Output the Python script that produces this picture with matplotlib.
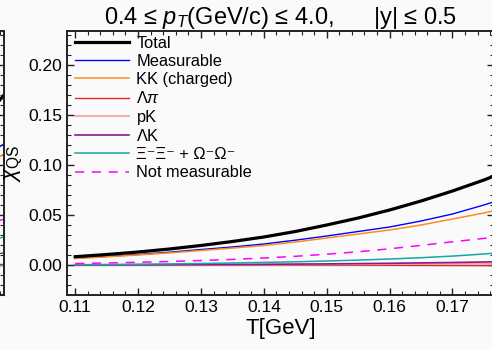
import numpy as np
import matplotlib
matplotlib.use("Agg")
import matplotlib.pyplot as plt
from matplotlib.ticker import MultipleLocator, FormatStrFormatter

plt.rcParams["font.family"] = ["Liberation Sans", "DejaVu Sans"]
plt.rcParams["mathtext.fontset"] = "custom"
plt.rcParams["mathtext.rm"] = "Liberation Sans"
plt.rcParams["mathtext.it"] = "Liberation Sans:italic"

# temperature grid [GeV]
T = [0.110, 0.115, 0.120, 0.125, 0.130, 0.135, 0.140, 0.145,
     0.150, 0.155, 0.160, 0.165, 0.170, 0.175, 0.177]

# chi_QS contributions, 0.4 < pT < 4.0 GeV/c, |y| < 0.5
chi_total = [0.0083, 0.0105, 0.0130, 0.0160, 0.0195, 0.0235, 0.0280, 0.0335,
             0.0400, 0.0470, 0.0550, 0.0640, 0.0740, 0.0850, 0.0900]
chi_meas = [0.0068, 0.0085, 0.0105, 0.0128, 0.0155, 0.0180, 0.0210, 0.0248,
            0.0290, 0.0335, 0.0380, 0.0440, 0.0510, 0.0600, 0.0640]
chi_kk = [0.0065, 0.0082, 0.0100, 0.0121, 0.0145, 0.0169, 0.0195, 0.0230,
          0.0270, 0.0310, 0.0350, 0.0400, 0.0460, 0.0520, 0.0550]
chi_lpi = [0.0, 0.0, 0.0, 0.0, -0.0001, -0.0001, -0.0001, -0.0002,
           -0.0002, -0.0003, -0.0003, -0.0004, -0.0005, -0.0006, -0.0006]
chi_pk = [0.0, 0.0, 0.0001, 0.0001, 0.0002, 0.0002, 0.0003, 0.0004,
          0.0005, 0.0006, 0.0008, 0.0010, 0.0012, 0.0014, 0.0015]
chi_lk = [0.0001, 0.0001, 0.0002, 0.0003, 0.0004, 0.0005, 0.0007, 0.0009,
          0.0011, 0.0014, 0.0017, 0.0021, 0.0025, 0.0030, 0.0032]
chi_xi = [0.0003, 0.0005, 0.0008, 0.0011, 0.0015, 0.0020, 0.0026, 0.0032,
          0.0040, 0.0049, 0.0060, 0.0073, 0.0089, 0.0110, 0.0120]
chi_notmeas = [0.0015, 0.0020, 0.0027, 0.0035, 0.0045, 0.0056, 0.0070, 0.0087,
               0.0108, 0.0132, 0.0162, 0.0196, 0.0232, 0.0266, 0.0280]

# neighbouring panel (only its right end is shown)
T_left = [0.170, 0.177]
left_total = [0.160, 0.170]
left_meas = [0.116, 0.121]
left_kk = [0.106, 0.111]
left_notmeas = [0.043, 0.046]
left_xi = [0.026, 0.028]
left_lk = [0.011, 0.012]
left_lpi = [0.001, 0.001]

bg = "#fafafa"


def style_axes(ax):
    ax.set_facecolor(bg)
    for sp in ax.spines.values():
        sp.set_linewidth(1.4)
        sp.set_color("#222222")
    ax.set_xlim(0.1087, 0.1766)
    ax.set_ylim(-0.030, 0.234)
    ax.xaxis.set_major_locator(MultipleLocator(0.01))
    ax.xaxis.set_minor_locator(MultipleLocator(0.002))
    ax.yaxis.set_major_locator(MultipleLocator(0.05))
    ax.yaxis.set_minor_locator(MultipleLocator(0.01))
    ax.tick_params(which="both", direction="in", top=True, right=True,
                   color="#222222", labelsize=12.5)
    ax.tick_params(which="major", length=5, width=1.0)
    ax.tick_params(which="minor", length=3, width=0.8)


fig = plt.figure(figsize=(4.92, 3.5), dpi=100, facecolor=bg)

# sliver of the left panel
axl = fig.add_axes([(3.5 - 80) / 492, 55 / 350, 80 / 492, 264 / 350])
style_axes(axl)
axl.set_xticklabels([])
axl.set_yticklabels([])
axl.axhline(0, color="0.6", lw=1)
axl.plot(T_left, left_total, color="black", lw=2.2)
axl.plot(T_left, left_meas, color="blue", lw=1)
axl.plot(T_left, left_kk, color="#ff8c1a", lw=1)
axl.plot(T_left, left_notmeas, color="magenta", lw=1)
axl.plot(T_left, left_xi, color="#14a8a8", lw=1)
axl.plot(T_left, left_lk, color="#8b1a8b", lw=1)
axl.plot(T_left, left_lpi, color="#a04040", lw=1)

ax = fig.add_axes([67 / 492, 55 / 350, 427 / 492, 264 / 350])
style_axes(ax)
ax.yaxis.set_major_formatter(FormatStrFormatter("%.2f"))
ax.xaxis.set_major_formatter(FormatStrFormatter("%.2f"))

ax.axhline(0, color="0.6", lw=1, zorder=1)
ax.plot(T, chi_total, color="black", lw=2.3, label="Total", zorder=5)
ax.plot(T, chi_meas, color="blue", lw=1, label="Measurable")
ax.plot(T, chi_kk, color="#ff8c1a", lw=1.1, label="KK (charged)")
ax.plot(T, chi_lpi, color="#e02828", lw=1, label=r"$\Lambda\pi$")
ax.plot(T, chi_pk, color="#f4a0a0", lw=1.2, label="pK")
ax.plot(T, chi_lk, color="#8b1a8b", lw=1.2, label=r"$\Lambda$K")
ax.plot(T, chi_xi, color="#14a8a8", lw=1.1, label="Ξ⁻Ξ⁻ + Ω⁻Ω⁻")
ax.plot(T, chi_notmeas, color="magenta", lw=1.1, ls=(0, (6, 5)),
        label="Not measurable")

ax.legend(loc="upper left", bbox_to_anchor=(8 / 427, 1 - 4.5 / 264),
          frameon=False, fontsize=11.8, borderpad=0, borderaxespad=0,
          handlelength=3.3, handletextpad=0.45, labelspacing=0.2)

ax.set_title(r"0.4 ≤ $p_T$(GeV/c) ≤ 4.0,      |y| ≤ 0.5", fontsize=17, pad=5)
ax.set_xlabel("T[GeV]", fontsize=16, labelpad=2)
ax.set_ylabel(r"$\chi_{\rm QS}$", fontsize=16, labelpad=2)

fig.savefig("out.png", dpi=100, facecolor=bg)
